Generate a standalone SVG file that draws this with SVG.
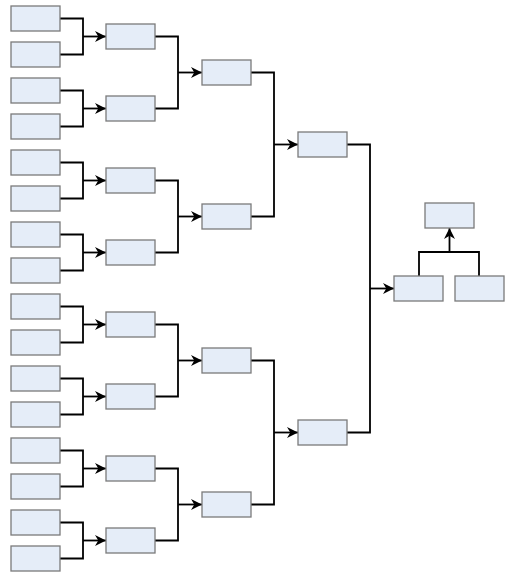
<svg xmlns="http://www.w3.org/2000/svg" width="507" height="575" viewBox="0 0 507 575">
<style>
.n rect{fill:#e5edf8;stroke:#7a7a7a;stroke-width:1.3}
.c path{fill:none;stroke:#000;stroke-width:1.8}
.c .a{marker-end:url(#ah)}
</style>
<defs>
<marker id="ah" viewBox="0 0 10 10" refX="10" refY="5" markerWidth="11" markerHeight="11" markerUnits="userSpaceOnUse" orient="auto">
<path d="M0,0 L10,5 L0,10 L3,5 z" fill="#000"/>
</marker>
</defs>
<rect width="507" height="575" fill="#fff"/>
<g id="connectors" class="c">
<path d="M60,18.5H83V54.5H60"/><path class="a" d="M83,36.5H106"/>
<path d="M60,90.5H83V126.5H60"/><path class="a" d="M83,108.5H106"/>
<path d="M60,162.5H83V198.5H60"/><path class="a" d="M83,180.5H106"/>
<path d="M60,234.5H83V270.5H60"/><path class="a" d="M83,252.5H106"/>
<path d="M60,306.5H83V342.5H60"/><path class="a" d="M83,324.5H106"/>
<path d="M60,378.5H83V414.5H60"/><path class="a" d="M83,396.5H106"/>
<path d="M60,450.5H83V486.5H60"/><path class="a" d="M83,468.5H106"/>
<path d="M60,522.5H83V558.5H60"/><path class="a" d="M83,540.5H106"/>
<path d="M155,36.5H178V108.5H155"/><path class="a" d="M178,72.5H202"/>
<path d="M155,180.5H178V252.5H155"/><path class="a" d="M178,216.5H202"/>
<path d="M155,324.5H178V396.5H155"/><path class="a" d="M178,360.5H202"/>
<path d="M155,468.5H178V540.5H155"/><path class="a" d="M178,504.5H202"/>
<path d="M251,72.5H274V216.5H251"/><path class="a" d="M274,144.5H298"/>
<path d="M251,360.5H274V504.5H251"/><path class="a" d="M274,432.5H298"/>
<path d="M347,144.5H370V432.5H347"/><path class="a" d="M370,288.5H394"/>
<path d="M419,276V252H479V276"/><path class="a" d="M449.5,252V228"/>
</g>
<g id="r1" class="n">
<rect x="11" y="6" width="49" height="25"/>
<rect x="11" y="42" width="49" height="25"/>
<rect x="11" y="78" width="49" height="25"/>
<rect x="11" y="114" width="49" height="25"/>
<rect x="11" y="150" width="49" height="25"/>
<rect x="11" y="186" width="49" height="25"/>
<rect x="11" y="222" width="49" height="25"/>
<rect x="11" y="258" width="49" height="25"/>
<rect x="11" y="294" width="49" height="25"/>
<rect x="11" y="330" width="49" height="25"/>
<rect x="11" y="366" width="49" height="25"/>
<rect x="11" y="402" width="49" height="25"/>
<rect x="11" y="438" width="49" height="25"/>
<rect x="11" y="474" width="49" height="25"/>
<rect x="11" y="510" width="49" height="25"/>
<rect x="11" y="546" width="49" height="25"/>
</g>
<g id="r2" class="n">
<rect x="106" y="24" width="49" height="25"/>
<rect x="106" y="96" width="49" height="25"/>
<rect x="106" y="168" width="49" height="25"/>
<rect x="106" y="240" width="49" height="25"/>
<rect x="106" y="312" width="49" height="25"/>
<rect x="106" y="384" width="49" height="25"/>
<rect x="106" y="456" width="49" height="25"/>
<rect x="106" y="528" width="49" height="25"/>
</g>
<g id="r3" class="n">
<rect x="202" y="60" width="49" height="25"/>
<rect x="202" y="204" width="49" height="25"/>
<rect x="202" y="348" width="49" height="25"/>
<rect x="202" y="492" width="49" height="25"/>
</g>
<g id="r4" class="n">
<rect x="298" y="132" width="49" height="25"/>
<rect x="298" y="420" width="49" height="25"/>
</g>
<g id="final-left" class="n"><rect x="394" y="276" width="49" height="25"/></g>
<g id="final-right" class="n"><rect x="455" y="276" width="49" height="25"/></g>
<g id="champion" class="n"><rect x="425" y="203" width="49" height="25"/></g>
</svg>
